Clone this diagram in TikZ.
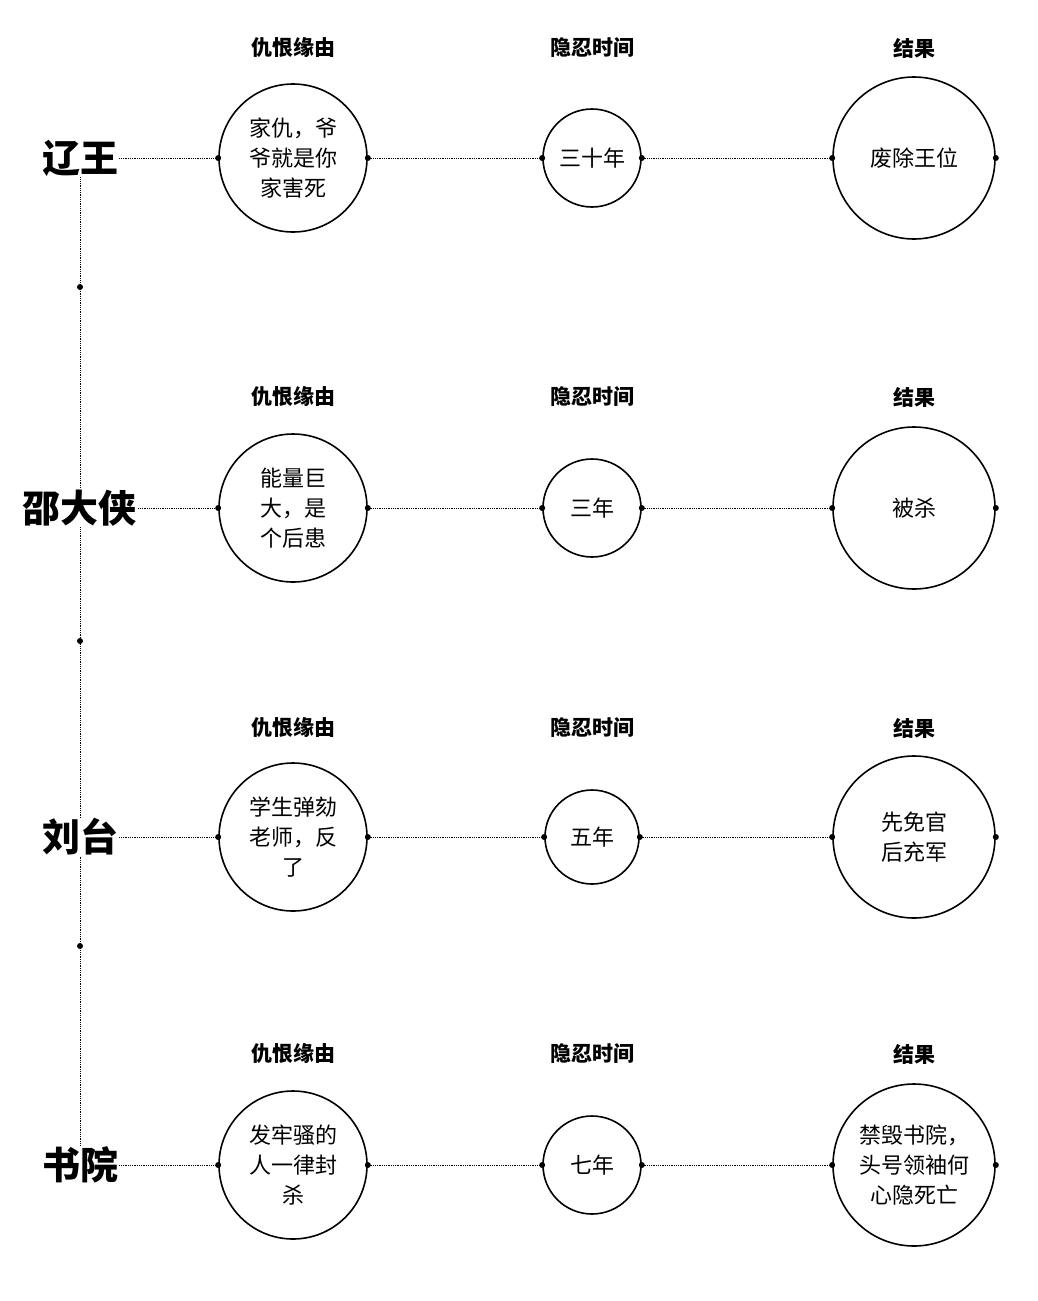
\documentclass[tikz,border=0pt]{standalone}
\usepackage{fontspec}
\setmainfont{Noto Sans CJK SC}
\usetikzlibrary{positioning,calc}
\tikzset{
  head/.style={font=\fontsize{21}{24}\selectfont\bfseries},
  lord/.style={font=\fontsize{38}{40}\selectfont\bfseries, inner sep=1pt},
  ring/.style={draw, circle, line width=1.6pt, align=center, inner sep=0pt, font=\fontsize{22}{30}\selectfont},
  link/.style={densely dotted, line width=0.8pt},
  pin/.style={circle, fill, inner sep=0pt, minimum size=6pt}
}
\begin{document}
\begin{tikzpicture}[x=1pt,y=-1pt]
\useasboundingbox (0,0) rectangle (1038,1301);
% rows
\foreach \r/\y/\hy/\who/\why/\wait/\res/\ra/\rb/\rc in {
  a/158/48/辽王/{家仇，爷\\爷就是你\\家害死}/三十年/废除王位/74/49/81,
  b/508/397/邵大侠/{能量巨\\大，是\\个后患}/三年/被杀/74/49/81,
  c/837/728/刘台/{学生弹劾\\老师，反\\了}/五年/{先免官\\后充军}/74/47/81,
  d/1165/1054/书院/{发牢骚的\\人一律封\\杀}/七年/{禁毁书院，\\头号领袖何\\心隐死亡}/74/49/81}{
  % headers
  \node[head] at (293,\hy) {仇恨缘由};
  \node[head] at (592,\hy) {隐忍时间};
  \node[head] at (914,\hy) {结果};
  % lord and circles
  \node[lord] (n\r) at (80,\y) {\who};
  \node[ring, minimum size=2*\ra] (p\r) at (293,\y) {\why};
  \node[ring, minimum size=2*\rb] (q\r) at (592,\y) {\wait};
  \node[ring, minimum size=2*\rc] (s\r) at (914,\y) {\res};
  % connections
  \draw[link] (n\r.east) -- (p\r.west);
  \draw[link] (p\r.east) -- (q\r.west);
  \draw[link] (q\r.east) -- (s\r.west);
  \foreach \c in {p\r,q\r,s\r} {
    \node[pin] at (\c.west) {};
    \node[pin] at (\c.east) {};
  }
}
% spine
\draw[link] (na.south) -- (nb.north);
\draw[link] (nb.south) -- (nc.north);
\draw[link] (nc.south) -- (nd.north);
\node[pin] at (80,287) {};
\node[pin] at (80,641) {};
\node[pin] at (80,946) {};
\end{tikzpicture}
\end{document}
